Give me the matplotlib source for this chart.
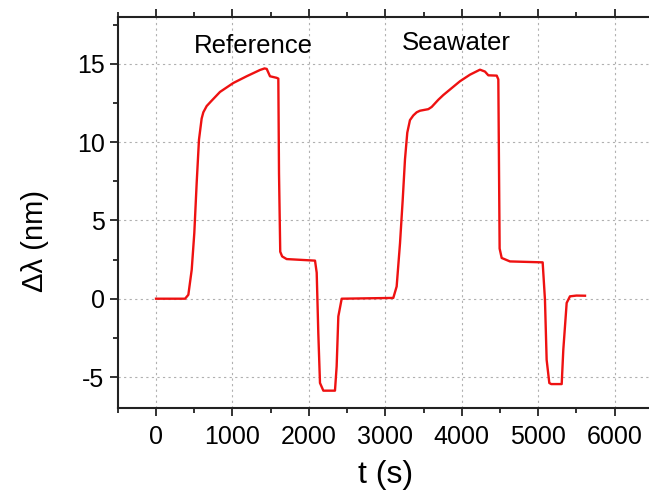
import matplotlib
matplotlib.use("Agg")
import matplotlib.pyplot as plt
from matplotlib.ticker import MultipleLocator

plt.rcParams['font.family'] = ['Liberation Sans', 'DejaVu Sans']
plt.rcParams['axes.unicode_minus'] = False

# Time (s) and wavelength shift (nm)
t_ref = [0, 380, 423, 467, 501, 532, 562, 597, 619, 663, 720, 837, 1011, 1186,
         1360, 1420, 1448, 1491, 1578, 1600, 1609, 1625, 1650, 1709, 2080, 2102,
         2123, 2145, 2189, 2341, 2363, 2385, 2429, 3104]
y_ref = [0, 0, 0.25, 1.85, 4.2, 7.4, 10.15, 11.5, 11.9, 12.3, 12.6, 13.2, 13.77, 14.2,
         14.6, 14.7, 14.67, 14.2, 14.1, 14.05, 8.0, 3.0, 2.7, 2.53, 2.43, 1.66,
         -2.2, -5.38, -5.87, -5.87, -4.32, -1.13, 0.0, 0.05]
t_sea = [3104, 3148, 3192, 3227, 3257, 3287, 3322, 3366, 3410, 3453, 3562, 3606,
         3693, 3758, 3976, 4107, 4238, 4303, 4347, 4457, 4478, 4495, 4522, 4630,
         5058, 5088, 5110, 5145, 5170, 5307, 5328, 5372, 5415, 5500, 5612]
y_sea = [0.05, 0.78, 3.55, 6.3, 8.9, 10.6, 11.4, 11.7, 11.9, 12.0, 12.1, 12.24,
         12.7, 13.0, 13.88, 14.3, 14.62, 14.5, 14.26, 14.24, 14.0, 3.2, 2.6, 2.38,
         2.32, -0.06, -3.9, -5.38, -5.45, -5.45, -3.26, -0.27, 0.15, 0.2, 0.19]

labels = ["Reference", "Seawater"]
label_x = [1269, 3924]
label_y = [16.1, 16.3]
xticks = [0, 1000, 2000, 3000, 4000, 5000, 6000]
yticks = [-5, 0, 5, 10, 15]

fig = plt.figure(figsize=(6.49, 4.92), dpi=100)
ax = fig.add_axes([0.1815, 0.170, 0.8245, 0.796])

ax.plot(t_ref + t_sea, y_ref + y_sea, color='#ee1111', lw=1.7)

for s, x, y in zip(labels, label_x, label_y):
    ax.text(x, y, s, ha='center', va='center', fontsize=18.5, color='black')

ax.set_xlim(-500, 6500)
ax.set_ylim(-7, 18)
ax.set_xticks(xticks)
ax.set_yticks(yticks)
ax.xaxis.set_minor_locator(MultipleLocator(500))
ax.yaxis.set_minor_locator(MultipleLocator(2.5))

ax.grid(True, which='major', color='#b0b0b0', linestyle=(0, (2, 3)), lw=0.8)
ax.set_axisbelow(True)

for side in ['left', 'bottom', 'top']:
    ax.spines[side].set_linewidth(1.5)
    ax.spines[side].set_color('#222222')
ax.spines['right'].set_visible(False)

ax.tick_params(which='both', direction='out', top=True, right=False,
               width=1.3, color='#222222', labelsize=18)
ax.tick_params(which='major', length=6)
ax.tick_params(which='minor', length=3.5)
ax.tick_params(axis='x', pad=6)

ax.set_xlabel('t (s)', fontsize=23, labelpad=8)
ax.set_ylabel('Δλ (nm)', fontsize=21)
ax.yaxis.set_label_coords(-0.128, 0.427)

fig.savefig('out.png', dpi=100)
